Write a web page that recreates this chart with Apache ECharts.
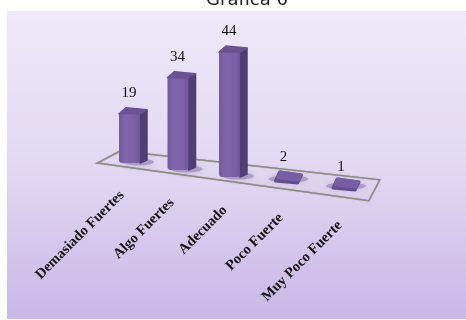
<!DOCTYPE html>
<html><head><meta charset="utf-8">
<style>html,body{margin:0;padding:0;background:#fff}#c{width:466px;height:320px}</style>
<script src="https://cdn.jsdelivr.net/npm/echarts@6/dist/echarts.min.js"></script>
</head><body><div id="c"></div>
<script>
const categories = ['Demasiado Fuertes','Algo Fuertes','Adecuado','Poco Fuerte','Muy Poco Fuerte'];
const values = [19,34,44,2,1];
const titleText = 'Gráfica 6';

// Fake 3D perspective on top of the library's own scale
function project(api, i, v){
  const p = api.coord([i, v]);
  return [p[0] + 1.5*i*(i-4), p[1] + 7*i + v*(0.16-0.125*i)];
}
function poly(points, fill, soft){
  return {type:'polygon', shape:{points}, style:{fill, stroke:fill, lineWidth:soft||1, lineJoin:'round'}};
}
function renderPlane(params, api){
  const L = project(api, -0.78, 0), R = project(api, 4.4, 0);
  return {type:'polygon', silent:true, shape:{points:[
    [L[0], L[1]+5.5],[R[0], R[1]+7],[R[0]+11, R[1]-14],[L[0]+23, L[1]-6.5]
  ]}, style:{fill:'rgba(255,255,255,0.03)', stroke:'#8f8c84', lineWidth:1.5, shadowBlur:1, shadowColor:'rgba(120,120,110,0.6)'}};
}
function renderBar(params, api){
  const i = api.value(0), v = api.value(1);
  const b = project(api, i, 0), t = project(api, i, v);
  const cx = b[0], w = 21, dx = 7, dy = 5;
  const l = cx-14, r = l+w;
  const low = v < 5;
  const textPart = [
    {type:'text', x:cx-4, y:t[1]-21, style:{text:String(v), fill:'#111', align:'center', verticalAlign:'middle',
      font:'15px "Liberation Serif", serif'}},
    {type:'text', x:cx-11+i*1.5, y:b[1]+30+i*0.6, rotation:Math.PI/4, originX:0, originY:0,
      style:{text:categories[i], fill:'#151515', align:'right', verticalAlign:'middle',
      font:'bold 14.5px "Liberation Serif", serif'}}
  ];
  const shadow = {type:'ellipse', shape:{cx:low?cx+1:cx+5, cy:b[1]-(low?5:1), rx:low?20:16, ry:3.5},
     style:{fill:'rgba(85,65,125,0.32)', shadowBlur:6, shadowColor:'rgba(85,65,125,0.55)'}};
  if (low) {
    const y0 = b[1];
    const pt = (a,c)=>[cx+a, y0+c];
    return {type:'group', children:[
      shadow,
      poly([pt(-8,-12),pt(14,-9),pt(10,-1),pt(-12,-3)], '#644d8e', 3),
      poly([pt(-7,-12),pt(13,-9),pt(11,-4),pt(-10,-6)], '#775da3', 3),
      ...textPart
    ]};
  }
  const front = new echarts.graphic.LinearGradient(0,0,1,0,[
    {offset:0,color:'#735a9c'},{offset:0.3,color:'#8065aa'},{offset:0.75,color:'#7c61a7'},{offset:1,color:'#6f5598'}]);
  return {type:'group', children:[
    shadow,
    poly([[r,b[1]],[r+dx,b[1]-3],[r+dx,t[1]-dy+1],[r,t[1]]], '#523e76', 1.5),
    {type:'rect', shape:{x:l, y:t[1], width:w, height:b[1]-t[1], r:[1,0,3,3]}, style:{fill:front}},
    poly([[l,t[1]],[r,t[1]],[r+dx,t[1]-dy+1],[l+dx,t[1]-dy-1]], '#6b5294', 1.5),
    ...textPart
  ]};
}
const chart = echarts.init(document.getElementById('c'), null, {renderer:'canvas'});
chart.setOption({
  animation:false,
  graphic:[{type:'rect', z:-10, shape:{x:7,y:11,width:459,height:308},
    style:{fill:new echarts.graphic.LinearGradient(0,0,0,1,[
      {offset:0,color:'#efe9f9'},{offset:0.5,color:'#e2d8f3'},{offset:1,color:'#c9b7e6'}])}}],
  title:{text:titleText,left:242,top:-14,textAlign:'center',
    textStyle:{fontFamily:'"DejaVu Sans", sans-serif',fontWeight:'normal',fontSize:18,color:'#222'}},
  grid:{left:106.5,width:265,top:25.5,bottom:157},
  xAxis:{type:'value',min:-0.5,max:4.5,show:false},
  yAxis:{type:'value',min:0,max:50,show:false},
  series:[
    {type:'custom',renderItem:renderPlane,data:[[0,0]],clip:false,silent:true,z:1},
    {type:'custom',renderItem:renderBar,clip:false,silent:true,z:2,
     data:values.map((v,i)=>[i,v])}
  ]
});
</script></body></html>
